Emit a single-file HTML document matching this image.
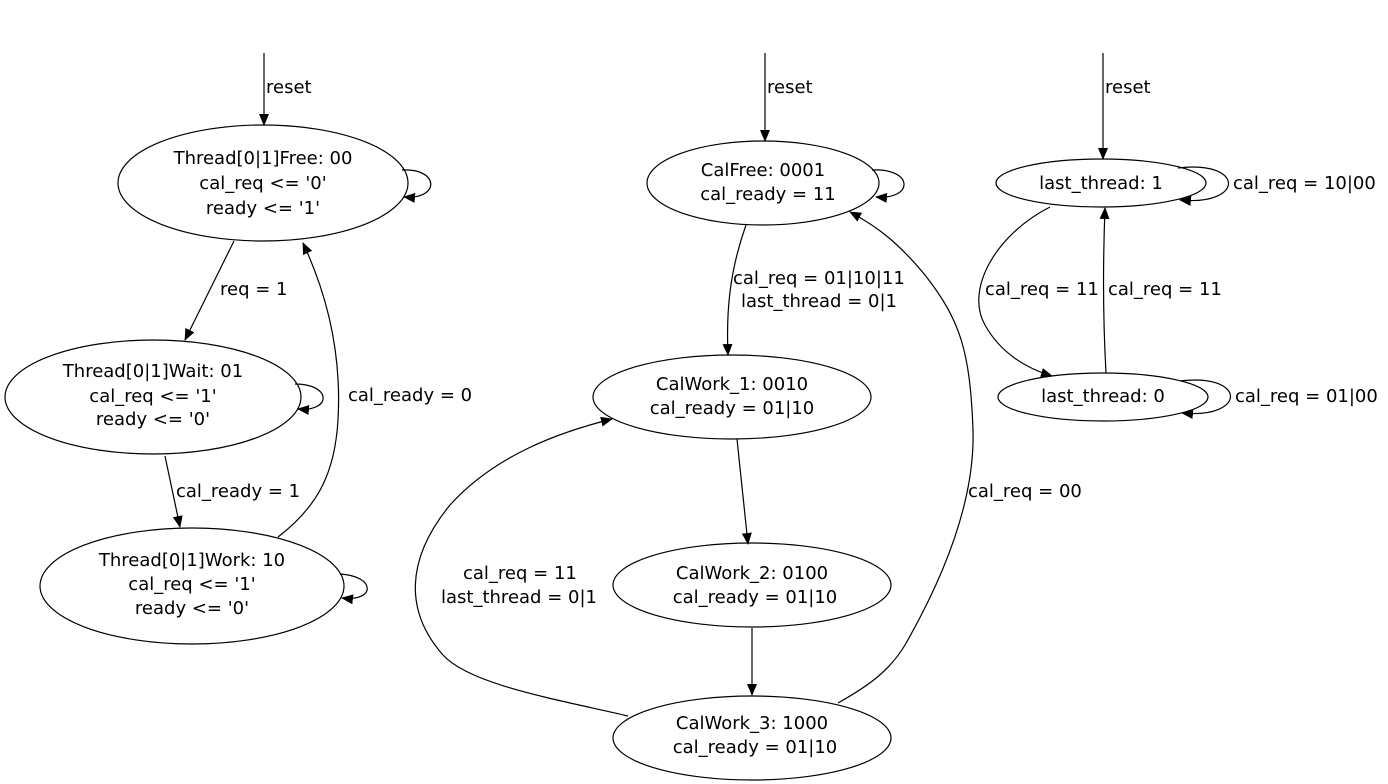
<!DOCTYPE html>
<html><head><meta charset="utf-8"><style>
html,body{margin:0;padding:0;background:#fff;width:1388px;height:784px;overflow:hidden}
svg text{font-family:"DejaVu Sans","Liberation Sans",sans-serif;font-size:18px;fill:#000}
</style></head><body>
<svg width="1388" height="784" viewBox="0 0 1388 784" xmlns="http://www.w3.org/2000/svg">
<defs><marker id="a" markerWidth="12" markerHeight="10" refX="11" refY="5" orient="auto" markerUnits="userSpaceOnUse"><path d="M0,0 L12,5 L0,10 Z" fill="#000"/></marker></defs>
<g fill="none" stroke="#000" stroke-width="1.2">
<line x1="264" y1="53" x2="264" y2="125" marker-end="url(#a)"/>
<ellipse cx="263" cy="183" rx="145" ry="58"/>
<path d="M402,170 C440,168 440,200 404,197" marker-end="url(#a)"/>
<line x1="234" y1="241" x2="185" y2="340" marker-end="url(#a)"/>
<ellipse cx="153" cy="397" rx="148" ry="57"/>
<path d="M295,384 C332,384 332,412 298,409" marker-end="url(#a)"/>
<line x1="165" y1="456" x2="180" y2="527" marker-end="url(#a)"/>
<ellipse cx="192" cy="586" rx="152" ry="58"/>
<path d="M340,574 C376,576 376,602 342,598" marker-end="url(#a)"/>
<path d="M278,537 C320,505 335,470 338,420 C342,350 325,290 303,243" marker-end="url(#a)"/>
<line x1="765" y1="53" x2="765" y2="141" marker-end="url(#a)"/>
<ellipse cx="763" cy="183" rx="116" ry="42"/>
<path d="M872,170 C914,168 914,200 876,197" marker-end="url(#a)"/>
<path d="M746,225 C730,270 726,310 728,355" marker-end="url(#a)"/>
<ellipse cx="732" cy="397" rx="139" ry="42"/>
<line x1="737" y1="439" x2="748" y2="544" marker-end="url(#a)"/>
<ellipse cx="752" cy="585" rx="139" ry="42"/>
<line x1="752" y1="628" x2="752" y2="695" marker-end="url(#a)"/>
<ellipse cx="752" cy="738" rx="139" ry="42"/>
<path d="M628,716 C560,700 470,685 443,655 C405,612 405,560 450,505 C495,455 560,432 612,419" marker-end="url(#a)"/>
<path d="M838,703 C870,685 890,670 905,645 C945,575 975,500 973,430 C970,350 960,320 925,275 C900,245 880,228 850,212" marker-end="url(#a)"/>
<line x1="1103" y1="53" x2="1103" y2="159" marker-end="url(#a)"/>
<ellipse cx="1101" cy="183" rx="105" ry="24"/>
<path d="M1178,168 C1245,160 1245,206 1180,200" marker-end="url(#a)"/>
<path d="M1050,207 C995,235 965,290 985,325 C1000,352 1025,368 1052,376" marker-end="url(#a)"/>
<path d="M1106,373 C1103,320 1103,260 1105,208" marker-end="url(#a)"/>
<ellipse cx="1103" cy="397" rx="105" ry="24"/>
<path d="M1180,381 C1247,373 1247,419 1182,413" marker-end="url(#a)"/>
</g>
<g text-anchor="middle">
<text x="263" y="164">Thread[0|1]Free: 00</text>
<text x="263" y="189">cal_req &lt;= '0'</text>
<text x="263" y="214">ready &lt;= '1'</text>
<text x="153" y="377">Thread[0|1]Wait: 01</text>
<text x="153" y="402">cal_req &lt;= '1'</text>
<text x="153" y="425">ready &lt;= '0'</text>
<text x="192" y="566">Thread[0|1]Work: 10</text>
<text x="192" y="590">cal_req &lt;= '1'</text>
<text x="192" y="614">ready &lt;= '0'</text>
<text x="763" y="176">CalFree: 0001</text>
<text x="768" y="200">cal_ready = 11</text>
<text x="732" y="390">CalWork_1: 0010</text>
<text x="732" y="414">cal_ready = 01|10</text>
<text x="752" y="579">CalWork_2: 0100</text>
<text x="755" y="603">cal_ready = 01|10</text>
<text x="752" y="729">CalWork_3: 1000</text>
<text x="755" y="753">cal_ready = 01|10</text>
<text x="1101" y="189">last_thread: 1</text>
<text x="1103" y="402">last_thread: 0</text>
</g>
<g>
<text x="266" y="93">reset</text>
<text x="220" y="295">req = 1</text>
<text x="348" y="401">cal_ready = 0</text>
<text x="176" y="497">cal_ready = 1</text>
<text x="767" y="93">reset</text>
<text x="733" y="284">cal_req = 01|10|11</text>
<text x="741" y="307">last_thread = 0|1</text>
<text x="463" y="579">cal_req = 11</text>
<text x="441" y="603">last_thread = 0|1</text>
<text x="968" y="497">cal_req = 00</text>
<text x="1105" y="93">reset</text>
<text x="1233" y="189">cal_req = 10|00</text>
<text x="985" y="295">cal_req = 11</text>
<text x="1108" y="295">cal_req = 11</text>
<text x="1235" y="402">cal_req = 01|00</text>
</g>
</svg>
</body></html>
